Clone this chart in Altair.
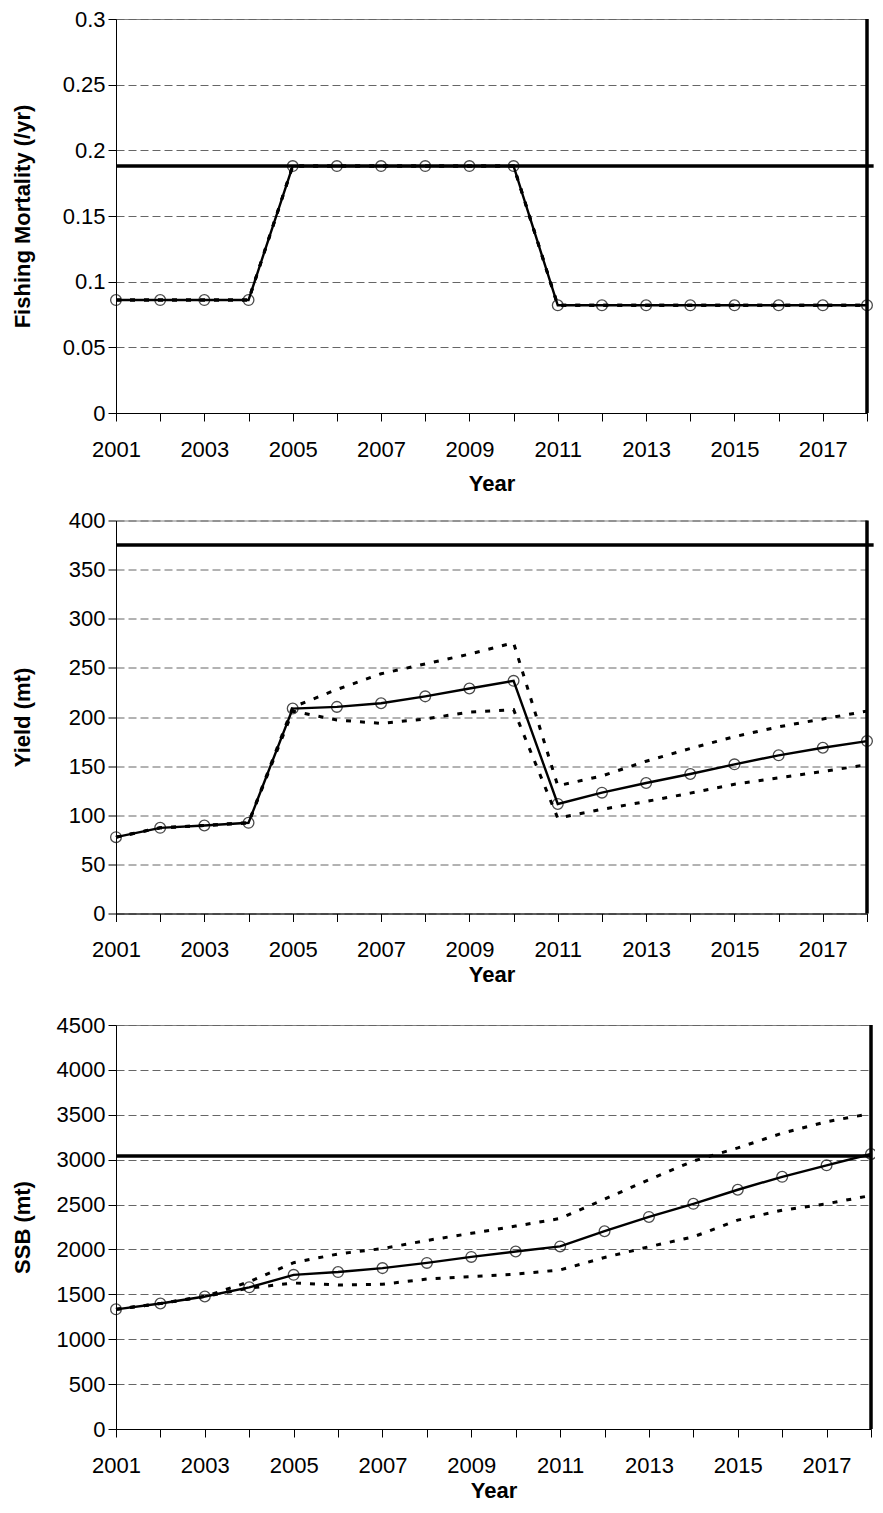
import altair as alt
import pandas as pd

# ---------------- data ----------------
years = [2001, 2002, 2003, 2004, 2005, 2006, 2007, 2008, 2009,
         2010, 2011, 2012, 2013, 2014, 2015, 2016, 2017, 2018]

f_mid = [0.086, 0.086, 0.086, 0.086, 0.188, 0.188, 0.188, 0.188, 0.188,
         0.188, 0.082, 0.082, 0.082, 0.082, 0.082, 0.082, 0.082, 0.082]
f_low = [0.086, 0.086, 0.086, 0.086, 0.188, 0.188, 0.188, 0.188, 0.188,
         0.188, 0.082, 0.082, 0.082, 0.082, 0.082, 0.082, 0.082, 0.082]
f_up = [0.086, 0.086, 0.086, 0.086, 0.188, 0.188, 0.188, 0.188, 0.188,
        0.188, 0.082, 0.082, 0.082, 0.082, 0.082, 0.082, 0.082, 0.082]
f_ref = 0.188

y_mid = [77.7, 87.2, 89.6, 92.3, 208.6, 210.3, 214.0, 221.0, 229.0,
         236.8, 111.5, 123.0, 132.8, 142.0, 151.8, 161.0, 168.7, 175.5]
y_low = [77.7, 87.2, 89.6, 92.3, 206.0, 197.0, 193.5, 198.0, 205.0,
         207.5, 97.0, 106.0, 114.0, 122.5, 131.5, 138.0, 144.5, 151.4]
y_up = [77.7, 87.2, 89.6, 92.3, 210.0, 228.0, 244.0, 254.0, 264.0,
        275.5, 130.0, 140.0, 155.0, 168.0, 180.0, 190.0, 198.0, 206.0]
y_ref = 375

s_mid = [1333, 1398, 1476, 1578, 1717, 1748, 1792, 1850, 1917,
         1977, 2034, 2203, 2362, 2508, 2665, 2809, 2937, 3063]
s_low = [1333, 1398, 1476, 1570, 1626, 1604, 1612, 1670, 1698,
         1725, 1772, 1910, 2030, 2140, 2327, 2437, 2509, 2601]
s_up = [1333, 1398, 1476, 1640, 1852, 1950, 2010, 2100, 2180,
        2260, 2345, 2560, 2778, 2985, 3131, 3295, 3423, 3514]
s_ref = 3040

f_ticks = [0, 0.05, 0.1, 0.15, 0.2, 0.25, 0.3]
y_ticks = [0, 50, 100, 150, 200, 250, 300, 350, 400]
s_ticks = [0, 500, 1000, 1500, 2000, 2500, 3000, 3500, 4000, 4500]

end_year = 2018
ref_span_12 = [2001, 2018.15]
ref_span_3 = [2001, 2018]

FONT = "Liberation Sans"


def panel(mid, low, up, ref, span, ticks, fmt, ytitle, w, h, xtitle_pad):
    df = pd.DataFrame({"Year": years, "Mid": mid, "Low": low, "Up": up})
    ref_df = pd.DataFrame({"Ref": [ref], "X1": [span[0]], "X2": [span[1]]})
    v_df = pd.DataFrame({"V": [end_year]})

    xscale = alt.Scale(domain=[2001, 2018], nice=False, zero=False)
    yscale = alt.Scale(domain=[ticks[0], ticks[-1]], nice=False, zero=True)

    xaxis = alt.Axis(
        values=years, title="Year",
        labelExpr="datum.value % 2 == 1 ? toString(datum.value) : ''",
        labelFont=FONT, labelFontSize=22, labelColor="black",
        labelPadding=18, labelFlush=False, labelOverlap=False,
        tickSize=8, tickColor="black", domainColor="black", domainWidth=1,
        titleFont=FONT, titleFontSize=22, titleFontWeight="bold",
        titleColor="black", titlePadding=xtitle_pad, grid=False,
    )
    yaxis = alt.Axis(
        values=ticks, format=fmt, title=ytitle,
        labelFont=FONT, labelFontSize=22, labelColor="black",
        labelPadding=3, labelFlush=False, labelOverlap=False,
        tickSize=8, tickColor="black", domainColor="black", domainWidth=1,
        titleFont=FONT, titleFontSize=22, titleFontWeight="bold",
        titleColor="black", titlePadding=22, minExtent=60, maxExtent=60,
        grid=True, gridColor="#666666", gridDash=[8, 4], gridWidth=1,
    )

    def X(field):
        return alt.X(field, type="quantitative", scale=xscale, axis=xaxis)

    def Y(field):
        return alt.Y(field, type="quantitative", scale=yscale, axis=yaxis)

    base = alt.Chart(df)
    lo = base.mark_line(color="black", strokeWidth=3, strokeDash=[5, 9]).encode(
        x=X("Year"), y=Y("Low"))
    hi = base.mark_line(color="black", strokeWidth=3, strokeDash=[5, 9]).encode(
        x=X("Year"), y=Y("Up"))
    md = base.mark_line(color="black", strokeWidth=2.4).encode(
        x=X("Year"), y=Y("Mid"))
    pts = base.mark_point(shape="circle", filled=False, size=115,
                          strokeWidth=1.3, color="black").encode(
        x=X("Year"), y=Y("Mid"))
    href = alt.Chart(ref_df).mark_rule(color="black", strokeWidth=3.5).encode(
        x=X("X1"), x2="X2:Q", y=Y("Ref"))
    vref = alt.Chart(v_df).mark_rule(color="black", strokeWidth=3.5).encode(
        x=X("V"))

    return alt.layer(lo, hi, md, pts, href, vref).properties(
        width=w, height=h,
        view=alt.ViewBackground(stroke="#808080", strokeWidth=1),
    )


p1 = panel(f_mid, f_low, f_up, f_ref, ref_span_12, f_ticks, ".2~f",
           "Fishing Mortality (/yr)", 751, 394, 13)
p2 = panel(y_mid, y_low, y_up, y_ref, ref_span_12, y_ticks, "d",
           "Yield (mt)", 751, 393, 3.5)
p3 = panel(s_mid, s_low, s_up, s_ref, ref_span_3, s_ticks, "d",
           "SSB (mt)", 755, 404, 4)

chart = alt.vconcat(
    alt.vconcat(p1, p2, spacing=13.5),
    p3, spacing=27,
).properties(
    padding={"left": 2, "top": -1, "right": -5, "bottom": 0},
    background="white",
).configure_view(strokeWidth=0)

chart.save("out.html", embed_options={"renderer": "svg", "actions": False})
